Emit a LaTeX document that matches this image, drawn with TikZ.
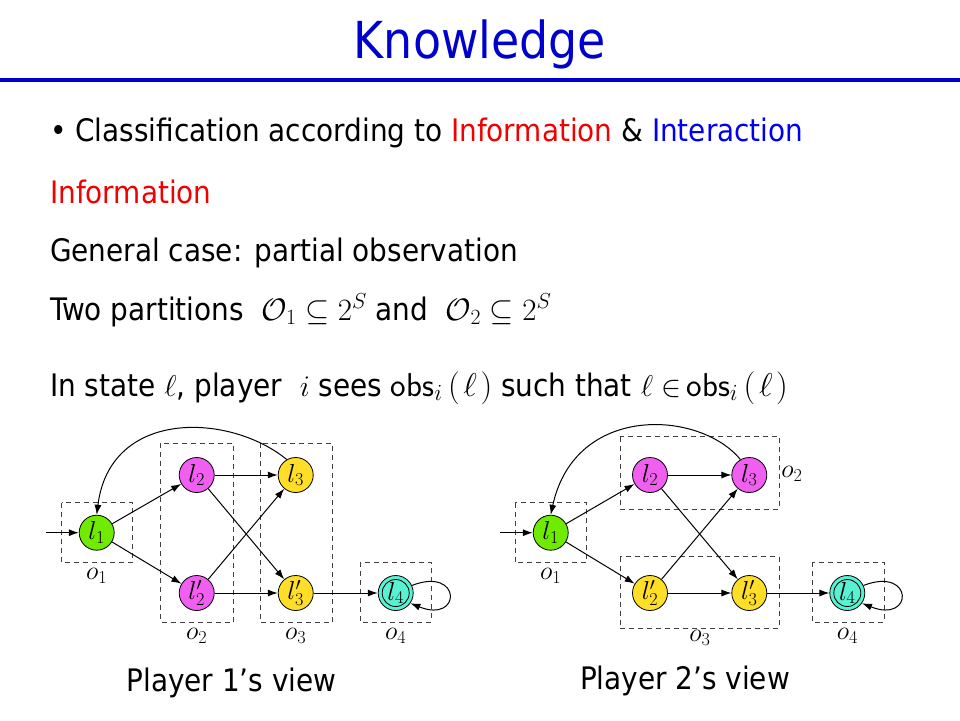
\RequirePackage{fix-cm}
\documentclass[tikz,border=0pt]{standalone}
\usepackage{fontspec}
\setmainfont{DejaVu Sans Condensed}
\usetikzlibrary{arrows.meta}

\definecolor{titleblue}{RGB}{0,0,204}
\definecolor{infored}{RGB}{240,0,0}
\definecolor{interblue}{RGB}{0,0,240}
\definecolor{locgreen}{RGB}{110,235,0}
\definecolor{locpink}{RGB}{240,95,240}
\definecolor{locyellow}{RGB}{255,222,40}
\definecolor{loccyan}{RGB}{90,240,210}

\newcommand{\sizedmath}[2]{{\fontsize{#1}{#1}\selectfont$#2$}}
\newcommand{\obsof}{\sizedmath{33}{\mathsf{obs}_i\mkern3mu(\mkern2mu\ell\mkern2mu)}}

\begin{document}
\begin{tikzpicture}[x=1pt,y=-1pt,
  loc/.style={circle, draw, line width=0.8pt, minimum size=35pt, inner sep=0pt, font=\fontsize{26}{26}\selectfont},
  obsbox/.style={draw=black!75, dash pattern=on 5pt off 4pt, line width=1pt},
  obslabel/.style={inner sep=0pt, font=\fontsize{26}{26}\selectfont},
  trans/.style={->, line width=1pt},
  body/.style={anchor=base west, inner sep=0pt, font=\fontsize{31}{31}\selectfont},
  >={Latex[length=10pt,width=7pt]}]

\useasboundingbox (0,0) rectangle (960,720);

% title
\node[anchor=base, inner sep=0pt, text=titleblue, font=\fontsize{51}{51}\selectfont] (title) at (480,58) {Knowledge};
\draw[titleblue, line width=4pt] (0,80) -- (960,80);

\node[body] (bullet) at (50,141) {\textbullet\ Classification according to \textcolor{infored}{Information} \& \textcolor{interblue}{Interaction}};
\node[body, text=infored] (info) at (50,203) {Information};
\node[body] (general) at (50,261) {General case: partial observation};
\node[body] (partitions) at (50,320) {Two partitions \ $\mathcal{O}_1 \subseteq 2^S$ and \ $\mathcal{O}_2 \subseteq 2^S$};
\node[body] (seen) at (50,396) {In state \sizedmath{30}{\ell}, player \ \sizedmath{30}{i} sees \obsof\ such that \sizedmath{30}{\ell\in}\,\obsof};

% player 1's view
\draw[obsbox] (61.7,502.7) rectangle (132.7,562.3);
\draw[obsbox] (160.7,443.3) rectangle (233.3,622.3);
\draw[obsbox] (260,443.3) rectangle (332.3,622.3);
\draw[obsbox] (360,562.3) rectangle (431,622.3);

\node[loc, fill=locgreen] (l1a) at (96.7,532.7) {$l_1$};
\node[loc, fill=locpink] (l2a) at (196.7,475) {$l_2$};
\node[loc, fill=locyellow] (l3a) at (295.7,475) {$l_3$};
\node[loc, fill=locpink] (l2pa) at (196.7,593) {$l_2'$};
\node[loc, fill=locyellow] (l3pa) at (295.7,593) {$l_3'$};
\node[loc, fill=loccyan] (l4a) at (395.7,593) {$l_4$};
\draw[line width=0.8pt] (l4a.center) circle (13.5pt);

\node[obslabel] (o1a) at (96.7,576) {$o_1$};
\node[obslabel] (o2a) at (196.7,636) {$o_2$};
\node[obslabel] (o3a) at (295.7,636) {$o_3$};
\node[obslabel] (o4a) at (395.7,636) {$o_4$};

\coordinate (ina) at (46,532.7);
\draw[trans] (ina) -- (l1a);
\draw[trans] (l1a) -- (l2a);
\draw[trans] (l1a) -- (l2pa);
\draw[trans] (l2a) -- (l3a);
\draw[trans] (l2a) -- (l3pa);
\draw[trans] (l2pa) -- (l3a);
\draw[trans] (l2pa) -- (l3pa);
\draw[trans] (l3pa) -- (l4a);
\draw[trans] (l3a.120) .. controls (230,413) and (110,408) .. (l1a.north);
\draw[trans] (l4a.25) .. controls (462,566) and (462,624) .. (l4a.-35);

% player 2's view
\draw[obsbox] (515,502.7) rectangle (586.7,562.3);
\draw[obsbox] (620,436.7) rectangle (779,509);
\draw[obsbox] (620,556.7) rectangle (779,628.3);
\draw[obsbox] (812.3,562.3) rectangle (884.3,622.3);

\node[loc, fill=locgreen] (l1b) at (550.7,532.7) {$l_1$};
\node[loc, fill=locpink] (l2b) at (650,475) {$l_2$};
\node[loc, fill=locpink] (l3b) at (749.3,475) {$l_3$};
\node[loc, fill=locyellow] (l2pb) at (650,593) {$l_2'$};
\node[loc, fill=locyellow] (l3pb) at (749.3,593) {$l_3'$};
\node[loc, fill=loccyan] (l4b) at (847.3,593) {$l_4$};
\draw[line width=0.8pt] (l4b.center) circle (13.5pt);

\node[obslabel] (o1b) at (550.7,576) {$o_1$};
\node[obslabel] (o2b) at (792,474) {$o_2$};
\node[obslabel] (o3b) at (700,638) {$o_3$};
\node[obslabel] (o4b) at (847.3,636) {$o_4$};

\coordinate (inb) at (500,532.7);
\draw[trans] (inb) -- (l1b);
\draw[trans] (l1b) -- (l2b);
\draw[trans] (l1b) -- (l2pb);
\draw[trans] (l2b) -- (l3b);
\draw[trans] (l2b) -- (l3pb);
\draw[trans] (l2pb) -- (l3b);
\draw[trans] (l2pb) -- (l3pb);
\draw[trans] (l3pb) -- (l4b);
\draw[trans] (l3b.120) .. controls (700,410) and (575,403) .. (l1b.north);
\draw[trans] (l4b.25) .. controls (914,566) and (914,624) .. (l4b.-35);

\node[anchor=base, inner sep=0pt, font=\fontsize{31}{31}\selectfont] (view1) at (231.5,691) {Player 1’s view};
\node[anchor=base, inner sep=0pt, font=\fontsize{31}{31}\selectfont] (view2) at (685,689) {Player 2’s view};

\end{tikzpicture}
\end{document}
